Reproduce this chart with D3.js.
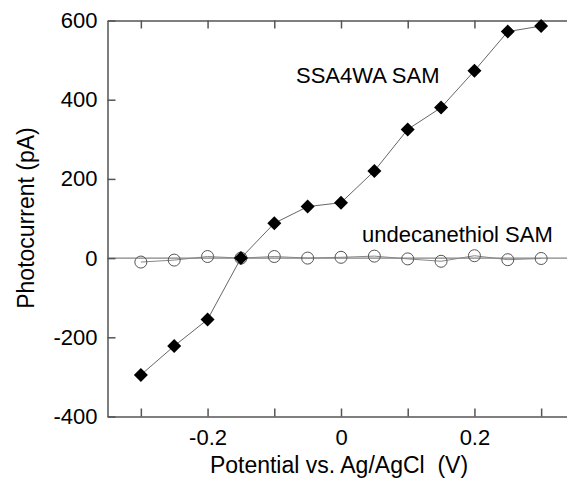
<!DOCTYPE html>
<html>
<head>
<meta charset="utf-8">
<script src="https://cdn.jsdelivr.net/npm/d3@7"></script>
<style>
  body { margin: 0; background: #fff; }
  svg { display: block; font-family: "Liberation Sans", Arial, sans-serif; }
  .axis path, .axis line { stroke: #555; }
  .axis text { font-size: 22px; fill: #000; font-family: "Liberation Sans", Arial, sans-serif; }
</style>
</head>
<body>
<script>

var potential = [-0.3, -0.25, -0.2, -0.15, -0.1, -0.05, 0, 0.05, 0.1, 0.15, 0.2, 0.25, 0.3];
var ssa4wa = [-295, -222, -155, 0, 88, 130, 140, 220, 325, 380, 473, 572, 586];
var undecanethiol = [-10, -5, 4, 0, 4, 0, 2, 5, -2, -8, 6, -4, -1];
var xTicks = [-0.3, -0.2, -0.1, 0, 0.1, 0.2, 0.3];
var xLabels = [-0.2, 0, 0.2];
var yTicks = [-400, -200, 0, 200, 400, 600];

var W = 567, H = 480;
var mLeft = 107.5, mTop = 20.5, mBottom = 416.5;

var x = d3.scaleLinear().domain([-0.35, 0.35]).range([mLeft, mLeft + 467]);
var y = d3.scaleLinear().domain([-400, 600]).range([mBottom, mTop]);

var svg = d3.select("body").append("svg")
    .attr("width", W)
    .attr("height", H);

var ssaData = potential.map(function(p, i) { return {x: p, y: ssa4wa[i]}; });
var undData = potential.map(function(p, i) { return {x: p, y: undecanethiol[i]}; });

// zero line
svg.append("line")
    .attr("x1", x(-0.35)).attr("x2", W)
    .attr("y1", y(0)).attr("y2", y(0))
    .attr("stroke", "#666").attr("stroke-width", 1);

// axes (ticks point inward)
var fmtX = function(d) {
  if (xLabels.indexOf(d) < 0) return "";
  return d === 0 ? "0" : d3.format(".1f")(d).replace("\u2212", "-");
};
var fmtY = function(d) { return String(d); };

svg.append("g")
    .attr("class", "axis")
    .attr("transform", "translate(0," + mBottom + ")")
    .call(d3.axisBottom(x).tickValues(xTicks).tickSize(-8).tickSizeOuter(0).tickPadding(13).tickFormat(fmtX));

svg.append("g")
    .attr("class", "axis")
    .attr("transform", "translate(0," + mTop + ")")
    .call(d3.axisTop(x).tickValues(xTicks).tickSize(-8).tickSizeOuter(0).tickFormat(""));

svg.append("g")
    .attr("class", "axis")
    .attr("transform", "translate(" + mLeft + ",0)")
    .call(d3.axisLeft(y).tickValues(yTicks).tickSize(-8).tickSizeOuter(0).tickPadding(10).tickFormat(fmtY));

svg.selectAll(".axis path").attr("stroke-width", 1.5);
svg.selectAll(".axis line").attr("stroke-width", 1.5);

// lines
var line = d3.line()
    .x(function(d) { return x(d.x); })
    .y(function(d) { return y(d.y); });

svg.append("path")
    .datum(undData)
    .attr("fill", "none")
    .attr("stroke", "#888")
    .attr("stroke-width", 1)
    .attr("d", line);

svg.append("path")
    .datum(ssaData)
    .attr("fill", "none")
    .attr("stroke", "#666")
    .attr("stroke-width", 1)
    .attr("d", line);

// open circles
svg.selectAll(".circ")
    .data(undData)
  .enter().append("circle")
    .attr("class", "circ")
    .attr("cx", function(d) { return x(d.x); })
    .attr("cy", function(d) { return y(d.y); })
    .attr("r", 6)
    .attr("fill", "none")
    .attr("stroke", "#555")
    .attr("stroke-width", 1);

// filled diamonds
svg.selectAll(".diam")
    .data(ssaData)
  .enter().append("path")
    .attr("class", "diam")
    .attr("transform", function(d) { return "translate(" + x(d.x) + "," + y(d.y) + ")"; })
    .attr("d", "M0,-7L7,0L0,7L-7,0Z")
    .attr("fill", "#000");

// labels
svg.append("text")
    .attr("x", 296).attr("y", 83)
    .attr("font-size", 22)
    .text("SSA4WA SAM");

svg.append("text")
    .attr("x", 362).attr("y", 242)
    .attr("font-size", 22)
    .text("undecanethiol SAM");

svg.append("text")
    .attr("x", 339).attr("y", 473)
    .attr("text-anchor", "middle")
    .attr("font-size", 23)
    .text("Potential vs. Ag/AgCl\u00a0\u00a0(V)");

svg.append("text")
    .attr("transform", "translate(34,218) rotate(-90)")
    .attr("text-anchor", "middle")
    .attr("font-size", 23)
    .text("Photocurrent (pA)");

</script>
</body>
</html>
